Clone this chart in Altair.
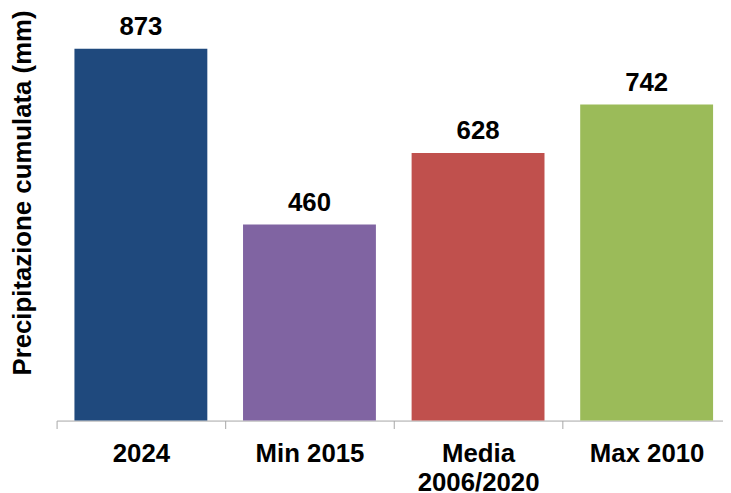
import json
import altair as alt
import pandas as pd

categories = ["2024", "Min 2015", "Media 2006/2020", "Max 2010"]
label_lines = ["2024", "Min 2015", "Media|2006/2020", "Max 2010"]
values = [873, 460, 628, 742]
colors = ["#1F497D", "#8064A2", "#C0504D", "#9BBB59"]

positions = [i + 0.5 for i in range(len(categories))]
df = pd.DataFrame({"cat": categories, "pos": positions, "val": values})

FONT = "Liberation Sans"
FS = 26
PLOT_W = 672
STEP = 170

tick_vals = []
tick_text = []
for i, lab in enumerate(label_lines):
    tick_vals += [i, i + 0.5]
    tick_text += ["", lab]
label_expr = f"split({json.dumps(tick_text)}[round(datum.value * 2)], '|')"

x_enc = alt.X(
    "pos:Q",
    scale=alt.Scale(domain=[0, PLOT_W / STEP], nice=False, zero=False, padding=0),
    axis=alt.Axis(
        title=None,
        values=tick_vals,
        labelExpr=label_expr,
        labelAngle=0,
        labelFontSize=FS,
        labelFontWeight="bold",
        labelColor="black",
        labelFont=FONT,
        labelPadding=12,
        labelLineHeight=30,
        labelOverlap=False,
        labelFlush=False,
        labelBound=False,
        domainColor="#a6a6a6",
        tickColor="#a6a6a6",
        tickOpacity={"condition": {"test": "datum.value % 1 != 0", "value": 0}, "value": 1},
        tickSize=8,
        grid=False,
    ),
)

y_enc = alt.Y(
    "val:Q",
    scale=alt.Scale(domain=[0, 959], nice=False),
    axis=alt.Axis(
        title="Precipitazione cumulata (mm)",
        titleFontSize=FS,
        titleFontWeight="bold",
        titleColor="black",
        titleFont=FONT,
        titleX=-34,
        titleY=182,
        titleAngle=270,
        titleAlign="center",
        titleBaseline="middle",
        domain=False,
        ticks=False,
        labels=False,
        grid=False,
    ),
)

bars = alt.Chart(df).mark_bar(width=134).encode(
    x=x_enc,
    y=y_enc,
    color=alt.Color("cat:N", scale=alt.Scale(domain=categories, range=colors), legend=None),
)

text = alt.Chart(df).mark_text(
    baseline="alphabetic", dy=-14, fontSize=FS, fontWeight="bold", font=FONT, color="black"
).encode(
    x=alt.X("pos:Q"),
    y=alt.Y("val:Q"),
    text=alt.Text("val:Q"),
)

chart = (
    alt.layer(bars, text)
    .properties(
        width=PLOT_W,
        height=412,
        autosize=alt.AutoSizeParams(type="none"),
        padding={"left": 49, "top": 2, "right": 0, "bottom": 71},
    )
    .configure(background="white")
    .configure_view(stroke=None)
)

chart.save("out.html", embed_options={"renderer": "svg", "actions": False})
